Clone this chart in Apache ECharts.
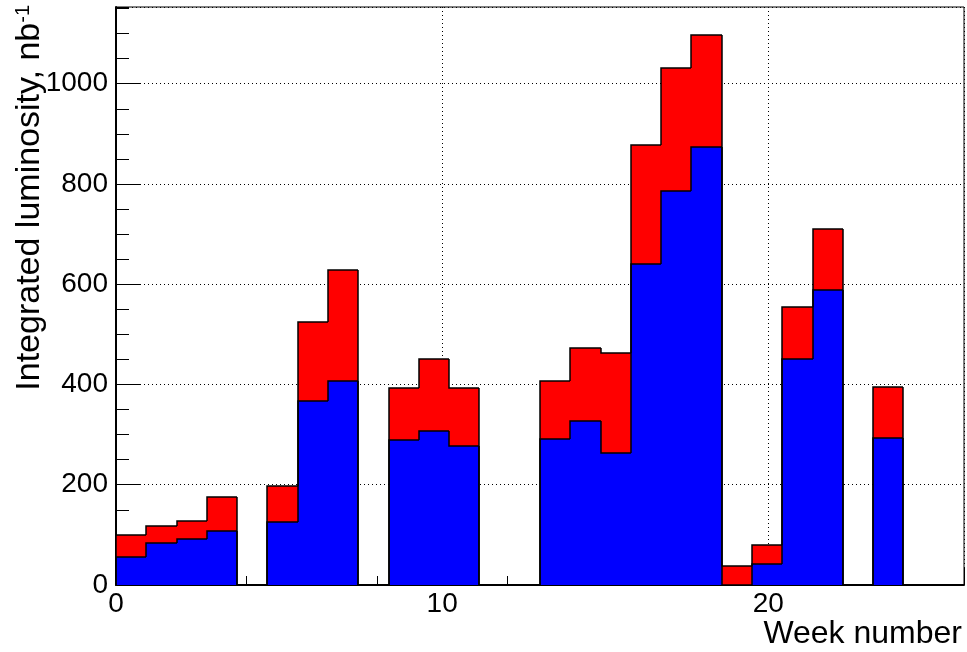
<!DOCTYPE html>
<html>
<head>
<meta charset="utf-8">
<script src="https://cdn.jsdelivr.net/npm/echarts@6/dist/echarts.min.js"></script>
<style>
html,body{margin:0;padding:0;background:#fff;}
#c{width:967px;height:652px;}
</style>
</head>
<body>
<div id="c"></div>
<script>
// Histogram: 28 bins spanning week axis 0..26
const nBins = 28;
const xRange = [0, 26];
const yRange = [0, 1153];
const xTickLabels = [0, 10, 20];
// lower (blue) component per bin
const blueValues = [56, 83, 92, 108, 0, 125, 368, 407, 0, 289, 308, 278, 0, 0,
                    292, 327, 263, 641, 786, 874, 0, 41, 451, 588, 0, 294, 0, 0];
// upper (red) component stacked on top, per bin
const redValues  = [43, 34, 36, 68, 0, 73, 156, 222, 0, 103, 143, 114, 0, 0,
                    114, 146, 200, 236, 245, 224, 38, 39, 104, 123, 0, 100, 0, 0];
const xTitle = 'Week number';
const yTitle = 'Integrated luminosity, nb';
const yTitleSup = '-1';

const binW = (xRange[1] - xRange[0]) / nBins;
// [bin index, blue, stacked total, previous blue, previous total]
const data = blueValues.map((b, i) => {
  const t = b + redValues[i];
  const pb = i > 0 ? blueValues[i - 1] : 0;
  const pt = i > 0 ? blueValues[i - 1] + redValues[i - 1] : 0;
  return [i, b, t, pb, pt];
});

const chart = echarts.init(document.getElementById('c'), null, {renderer: 'canvas'});
const FONT = '"Liberation Sans", Arial, Helvetica, sans-serif';

function renderItem(params, api) {
  const i = api.value(0), b = api.value(1), t = api.value(2), pb = api.value(3), pt = api.value(4);
  const lo = xRange[0] + i * binW, hi = lo + binW;
  const x0 = Math.round(api.coord([lo, 0])[0]), x1 = Math.round(api.coord([hi, 0])[0]);
  const Y = v => Math.round(api.coord([lo, v])[1]);
  const y0 = Y(0), yb = Y(b), yt = Y(t), ypb = Y(pb), ypt = Y(pt);
  const children = [];
  if (t > b) children.push({type: 'rect', shape: {x: x0, y: yt, width: x1 - x0, height: yb - yt}, style: {fill: '#ff0000'}});
  if (b > 0) children.push({type: 'rect', shape: {x: x0, y: yb, width: x1 - x0, height: y0 - yb}, style: {fill: '#0000ff'}});
  const ls = {stroke: '#000', lineWidth: 1.5, fill: null};
  // stacked total outline (step)
  children.push({type: 'polyline', shape: {points: [[x0, ypt], [x0, yt], [x1, yt]]}, style: ls});
  // blue outline (step)
  children.push({type: 'polyline', shape: {points: [[x0, ypb], [x0, yb], [x1, yb]]}, style: ls});
  return {type: 'group', children};
}

chart.setOption({
  animation: false,
  backgroundColor: '#fff',
  grid: {left: 116, top: 7, right: 2, bottom: 67, show: true, borderColor: '#000', borderWidth: 1, backgroundColor: 'transparent'},
  xAxis: [{
    type: 'value', min: xRange[0], max: xRange[1], interval: 10, position: 'bottom',
    axisLine: {show: true, onZero: false, lineStyle: {color: '#000', width: 2}},
    axisTick: {show: true, inside: true, length: 17, lineStyle: {color: '#000', width: 1}},
    axisLabel: {show: true, margin: 5, color: '#000', fontSize: 28, fontFamily: FONT,
      formatter: v => (xTickLabels.indexOf(v) >= 0 ? String(v) : '')},
    splitLine: {show: true, lineStyle: {color: '#000', width: 1, type: [1, 3]}},
    minorTick: {show: false}
  }, {
    type: 'value', min: xRange[0], max: xRange[1], interval: 2, position: 'bottom',
    axisLine: {show: false, onZero: false},
    axisTick: {show: true, inside: true, length: 9, lineStyle: {color: '#000', width: 1}},
    axisLabel: {show: false},
    splitLine: {show: false}
  }],
  yAxis: [{
    type: 'value', min: yRange[0], max: yRange[1], interval: 200, position: 'left',
    axisLine: {show: true, onZero: false, lineStyle: {color: '#000', width: 2}},
    axisTick: {show: true, inside: true, length: 25, lineStyle: {color: '#000', width: 1}},
    axisLabel: {show: true, showMaxLabel: false, margin: 8, color: '#000', fontSize: 28, fontFamily: FONT,
      formatter: v => String(v)},
    splitLine: {show: true, lineStyle: {color: '#000', width: 1, type: [1, 3]}}
  }, {
    type: 'value', min: yRange[0], max: yRange[1], interval: 50, position: 'left',
    axisLine: {show: false, onZero: false},
    axisTick: {show: true, inside: true, length: 13, lineStyle: {color: '#000', width: 1}},
    axisLabel: {show: false},
    splitLine: {show: false}
  }],
  series: [{
    type: 'custom',
    xAxisIndex: 0, yAxisIndex: 0,
    renderItem: renderItem,
    data: data,
    encode: {x: 0, y: [1, 2]},
    clip: false,
    z: 2
  }],
  graphic: [{
    type: 'text', x: 962, y: 634, z: 10,
    style: {text: xTitle, align: 'right', verticalAlign: 'middle', fill: '#000', font: '32px ' + FONT}
  }, {
    type: 'text', x: 30, y: 5, rotation: Math.PI / 2, z: 10,
    style: {
      text: '{m|' + yTitle + '}{s|' + yTitleSup + '}',
      align: 'right', verticalAlign: 'middle',
      rich: {
        m: {fontSize: 34, fontFamily: FONT, fill: '#000', color: '#000', lineHeight: 34, verticalAlign: 'middle'},
        s: {fontSize: 20, fontFamily: FONT, fill: '#000', color: '#000', lineHeight: 34, verticalAlign: 'top'}
      }
    }
  }]
});
</script>
</body>
</html>
